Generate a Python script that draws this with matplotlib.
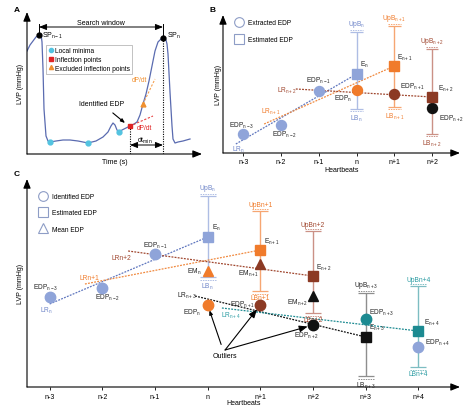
import matplotlib.pyplot as plt
from matplotlib.lines import Line2D

plt.rcParams['font.family'] = ['Liberation Sans', 'DejaVu Sans']
plt.rcParams['mathtext.fontset'] = 'custom'
plt.rcParams['mathtext.rm'] = 'Liberation Sans'
plt.rcParams['mathtext.it'] = 'Liberation Sans:italic'
plt.rcParams['mathtext.default'] = 'regular'

# Colours
BLUE = '#8FA4D9'
ORANGE = '#F07B2B'
BROWN = '#8C3A24'
BLACK = '#111111'
TEAL = '#1C8A91'
BLUE_L, ORANGE_L, BROWN_L, GREY_L, TEAL_L = '#AEBDE4', '#F6A672', '#CB9186', '#8E8E8E', '#7DBDC2'
BLUE_T, BROWN_T, TEAL_T, DARK = '#6E85C8', '#A0472F', '#2B9CA3', '#222222'

# ---- Panel A data: one LVP trace (time in s, pressure in mmHg)
t_curve = [0.00, 0.03, 0.06, 0.09, 0.12, 0.14, 0.15, 0.16, 0.17, 0.19, 0.21, 0.23, 0.29, 0.36,
           0.43, 0.51, 0.61, 0.69, 0.76, 0.81, 0.84, 0.86, 0.88, 0.90, 0.92, 0.95, 0.99, 1.03,
           1.07, 1.10, 1.13, 1.16, 1.19, 1.22, 1.25, 1.28, 1.31, 1.34, 1.36, 1.39, 1.40, 1.41,
           1.43, 1.45, 1.46, 1.48, 1.51, 1.56, 1.63]
p_curve = [103, 109, 113, 117, 119, 120, 112, 85, 45, 18, 13, 12, 13, 14,
           14, 13, 11, 13, 17, 22, 28, 31, 29, 24, 22, 24, 26, 28,
           30, 32, 39, 50, 60, 73, 88, 103, 112, 115, 116, 114, 110, 100,
           62, 28, 15, 11, 12, 13, 15]
t_minima = [0.23, 0.61, 0.92]
p_minima = [12, 11, 22]
t_infl, p_infl = [1.03], [28]
t_excl, p_excl = [1.16], [50]
t_sp = [0.12, 1.36]
p_sp = [119, 116]

# ---- Panel B data (heartbeat index relative to n)
b_beats = [-3, -2, -1, 0, 1, 2]
b_edp = [19, 28, 62, 63, 59, 45]
b_edp_colors = [BLUE, BLUE, BLUE, ORANGE, BROWN, BLACK]
b_est_beats = [0, 1, 2]
b_est = [79, 87, 56]
b_est_colors = [BLUE, ORANGE, BROWN]
b_upb = [121, 127, 104]
b_lb = [44, 46, 19]
b_bar_colors = [BLUE_L, ORANGE_L, BROWN_L]
b_lr_x0 = [-3.2, -2.45, -1.61]
b_lr_y0 = [9, 29, 64]
b_lr_colors = ['#5F76BE', '#F08A40', BROWN_T]

# ---- Panel C data
c_beats = [-3, -2, -1, 0, 1, 2, 3, 4]
c_edp = [90, 99, 133, 82, 82, 62, 68, 40]
c_edp_colors = [BLUE, BLUE, BLUE, ORANGE, BROWN, BLACK, TEAL, BLUE]
c_est_beats = [0, 1, 2, 3, 4]
c_est = [150, 137, 111, 50, 56]
c_est_colors = [BLUE, ORANGE, BROWN, BLACK, TEAL]
c_mean_beats = [0, 1, 2]
c_mean = [116, 123, 91]
c_mean_colors = [ORANGE, BROWN, BLACK]
c_upb = [191, 176, 156, 94, 101]
c_lb = [110, 96, 74, 11, 20]
c_bar_colors = [BLUE_L, ORANGE_L, BROWN_L, GREY_L, TEAL_L]
c_lr_x0 = [-3.0, -2.33, -1.51, -0.24, 0.27]
c_lr_y0 = [83, 103, 136, 91, 79]
c_lr_colors = ['#5F76BE', '#F08A40', BROWN_T, BLACK, TEAL]

W, H = 474, 414
fig = plt.figure(figsize=(W / 100, H / 100), dpi=100)


def px_axes(x0, y0, x1, y1):
    return fig.add_axes([x0 / W, 1 - y1 / H, (x1 - x0) / W, (y1 - y0) / H])


def arrow_axes(ax):
    for s in ax.spines.values():
        s.set_visible(False)
    kw = dict(arrowstyle='-|>,head_length=0.55,head_width=0.22', color='black', lw=0.8,
              shrinkA=0, shrinkB=0)
    ax.annotate('', xy=(1, 0), xytext=(0, 0), xycoords='axes fraction', arrowprops=kw)
    ax.annotate('', xy=(0, 1), xytext=(0, 0), xycoords='axes fraction', arrowprops=kw)


def error_bars(ax, xs, ups, lows, colors, hw, off):
    for x, u, l, c in zip(xs, ups, lows, colors):
        ax.vlines(x, l, u, color=c, lw=1.0, zorder=1)
        ax.hlines([u, l], x - hw, x + hw, color=c, lw=0.9, zorder=1)
        ax.hlines([u + off, l - off], x - hw, x + hw, color=c, lw=0.7, ls=(0, (1.5, 1)), zorder=1)


def legend_shapes(ax, labels, anchor, spacing):
    handles = [Line2D([], [], ls='', marker=m, ms=7, mfc='none', mec='#8E9DC6', mew=0.8)
               for m in ['o', 's', '^'][:len(labels)]]
    ax.legend(handles, labels, loc='upper left', bbox_to_anchor=anchor, frameon=False,
              fontsize=4.8, handlelength=1.5, handletextpad=0.6, labelspacing=spacing,
              borderpad=0, borderaxespad=0)


# ================= Panel A =================
axA = px_axes(27, 13, 202, 155)
arrow_axes(axA)
axA.set_xlim(0, 1.75)
axA.set_ylim(0, 142)
axA.set_xticks([])
axA.set_yticks([])
axA.plot(t_curve, p_curve, color='#5A6BB0', lw=0.9, zorder=2)
axA.plot(t_minima, p_minima, 'o', color='#53C3E0', ms=3.5, zorder=3)
axA.plot(t_infl, p_infl, 's', color='#E02424', ms=3.5, zorder=3)
axA.plot(t_excl, p_excl, '^', color='#F09030', ms=3.5, zorder=3)
axA.plot(t_sp, p_sp, 'o', color='black', ms=3.5, zorder=3)
axA.plot([t_infl[0], 1.26], [p_infl[0], 38], color='#E84040', lw=0.8, ls=(0, (2, 1.5)))
axA.plot([t_excl[0], 1.28], [p_excl[0], 75], color='#F5A050', lw=0.8, ls=(0, (2, 1.5)))
axA.text(1.12, 74, 'dP/dt', color='#F09030', fontsize=4.8, ha='center', va='center')
axA.text(1.17, 27, 'dP/dt', color='#E02424', fontsize=4.8, ha='center', va='center')
# search window
for t, p in zip(t_sp, p_sp):
    axA.plot([t, t], [p, 130], color='black', lw=0.7)
axA.annotate('', xy=(t_sp[0], 127), xytext=(t_sp[1], 127),
             arrowprops=dict(arrowstyle='<|-|>,head_length=0.45,head_width=0.18', color='black',
                             lw=0.7, shrinkA=0, shrinkB=0))
axA.text(sum(t_sp) / 2, 131, 'Search window', fontsize=5, ha='center', va='center')
axA.text(t_sp[0] + 0.03, p_sp[0], 'SP$_{n-1}$', fontsize=5, va='center')
axA.text(t_sp[1] + 0.04, p_sp[1] + 3, 'SP$_{n}$', fontsize=5, va='center')
axA.plot([t_infl[0]] * 2, [0, p_infl[0]], color='black', lw=0.8, ls=(0, (1, 1.2)))
axA.plot([t_sp[1]] * 2, [0, p_sp[1]], color='black', lw=0.8, ls=(0, (1, 1.2)))
axA.annotate('', xy=(t_infl[0], 9), xytext=(t_sp[1], 9),
             arrowprops=dict(arrowstyle='<|-|>,head_length=0.45,head_width=0.18', color='black',
                             lw=0.7, shrinkA=0, shrinkB=0))
axA.text(1.18, 14, 'dt$_{min}$', fontsize=5, ha='center', va='center')
axA.annotate('Identified EDP', xy=(0.98, 31), xytext=(0.75, 50), fontsize=5, ha='center',
             va='center', arrowprops=dict(arrowstyle='-|>,head_length=0.5,head_width=0.2',
                                          color='black', lw=0.8, shrinkA=3, shrinkB=0))
axA.legend([Line2D([], [], ls='', marker='o', color='#53C3E0', ms=3),
            Line2D([], [], ls='', marker='s', color='#E02424', ms=3),
            Line2D([], [], ls='', marker='^', color='#F09030', ms=3)],
           ['Local minima', 'Inflection points', 'Excluded inflection points'],
           loc='upper left', bbox_to_anchor=(0.109, 0.768), fontsize=4.8, handlelength=0.7,
           handletextpad=0.3, labelspacing=0.25, borderpad=0.35, borderaxespad=0,
           fancybox=False, edgecolor='#AAAAAA', framealpha=1).get_frame().set_linewidth(0.5)
axA.set_xlabel('Time (s)', fontsize=5, labelpad=3)
axA.set_ylabel('LVP (mmHg)', fontsize=5, labelpad=2)

# ================= Panel B =================
axB = px_axes(223, 16, 460, 154)
arrow_axes(axB)
axB.set_xlim(-3.54, 2.74)
axB.set_ylim(0, 138)
axB.set_yticks([])
axB.set_xticks(b_beats, ['n-3', 'n-2', 'n-1', 'n', 'n+1', 'n+2'])
axB.tick_params(axis='x', length=2, width=0.6, labelsize=5, pad=1.5)
error_bars(axB, b_est_beats, b_upb, b_lb, b_bar_colors, 0.17, 2.2)
for x0, y0, x1, y1, c in zip(b_lr_x0, b_lr_y0, b_est_beats, b_est, b_lr_colors):
    axB.plot([x0, x1], [y0, y1], color=c, lw=0.9, ls=(0, (1.5, 1)), zorder=2)
for x, y, c in zip(b_beats, b_edp, b_edp_colors):
    axB.plot(x, y, 'o', color=c, ms=7.2, zorder=4)
for x, y, c in zip(b_est_beats, b_est, b_est_colors):
    axB.plot(x, y, 's', color=c, ms=6.8, zorder=4)
b_texts = [
    ('EDP$_{n-3}$', -3.04, 28, 'center', DARK), ('EDP$_{n-2}$', -1.9, 19, 'center', DARK),
    ('EDP$_{n-1}$', -1.0, 73, 'center', DARK), ('EDP$_{n}$', -0.36, 55, 'center', DARK),
    ('E$_{n}$', 0.09, 89, 'left', DARK), ('EDP$_{n+1}$', 1.15, 67, 'left', DARK),
    ('E$_{n+1}$', 1.07, 96, 'left', DARK), ('E$_{n+2}$', 2.16, 65, 'left', DARK),
    ('EDP$_{n+2}$', 2.19, 35, 'left', DARK),
    ('LR$_{n}$', -3.12, 4, 'center', BLUE_T), ('LR$_{n+1}$', -2.27, 42, 'center', ORANGE),
    ('LR$_{n+2}$', -1.84, 63, 'center', BROWN_T),
]
for s, x, y, ha, c in b_texts:
    axB.text(x, y, s, fontsize=4.8, ha=ha, va='center', color=c)
for x, u, l, c, nm in zip(b_est_beats, b_upb, b_lb, [BLUE_T, ORANGE, BROWN_T],
                          ['n', 'n+1', 'n+2']):
    axB.text(x, u + 3, 'UpB$_{%s}$' % nm, fontsize=4.8, ha='center', va='bottom', color=c)
    axB.text(x, l - 3.5, 'LB$_{%s}$' % nm, fontsize=4.8, ha='center', va='top', color=c)
legend_shapes(axB, ['Extracted EDP', 'Estimated EDP'], (0.046, 0.971), 1.5)
axB.set_xlabel('Heartbeats', fontsize=5, labelpad=0.5)
axB.set_ylabel('LVP (mmHg)', fontsize=5, labelpad=1)

# ================= Panel C =================
axC = px_axes(27, 180, 460, 388)
arrow_axes(axC)
axC.set_xlim(-3.43, 4.79)
axC.set_ylim(0, 208)
axC.set_yticks([])
axC.set_xticks(c_beats, ['n-3', 'n-2', 'n-1', 'n', 'n+1', 'n+2', 'n+3', 'n+4'])
axC.tick_params(axis='x', length=2.5, width=0.6, labelsize=5, pad=2)
error_bars(axC, c_est_beats, c_upb, c_lb, c_bar_colors, 0.15, 2.5)
for x0, y0, x1, y1, c in zip(c_lr_x0, c_lr_y0, c_est_beats, c_est, c_lr_colors):
    axC.plot([x0, x1], [y0, y1], color=c, lw=0.9, ls=(0, (1.5, 1)), zorder=2)
for x, y, c in zip(c_beats, c_edp, c_edp_colors):
    axC.plot(x, y, 'o', color=c, ms=7.5, zorder=4)
for x, y, c in zip(c_est_beats, c_est, c_est_colors):
    axC.plot(x, y, 's', color=c, ms=7, zorder=4)
for x, y, c in zip(c_mean_beats, c_mean, c_mean_colors):
    axC.plot(x, y, '^', color=c, ms=6.5, zorder=4)
c_texts = [
    ('EDP$_{n-3}$', -3.07, 100, 'center', DARK), ('EDP$_{n-2}$', -1.91, 90, 'center', DARK),
    ('EDP$_{n-1}$', -1.0, 142, 'center', DARK), ('E$_{n}$', 0.08, 160, 'left', DARK),
    ('EM$_{n}$', -0.12, 116, 'right', DARK), ('EDP$_{n}$', -0.13, 75, 'right', DARK),
    ('E$_{n+1}$', 1.07, 146, 'left', DARK), ('EM$_{n+1}$', 0.97, 114, 'right', DARK),
    ('EDP$_{n+1}$', 0.9, 83, 'right', DARK), ('E$_{n+2}$', 2.06, 120, 'left', DARK),
    ('EM$_{n+2}$', 1.9, 85, 'right', DARK), ('EDP$_{n+2}$', 1.88, 52, 'center', DARK),
    ('EDP$_{n+3}$', 3.07, 75, 'left', DARK), ('E$_{n+3}$', 3.07, 60, 'left', DARK),
    ('E$_{n+4}$', 4.1, 65, 'left', DARK), ('EDP$_{n+4}$', 4.12, 45, 'left', DARK),
    ('LR$_{n}$', -3.07, 77, 'center', BLUE_T), ('LRn+1', -2.24, 110, 'center', ORANGE),
    ('LRn+2', -1.63, 129, 'center', BROWN_T), ('LR$_{n+3}$', -0.39, 92, 'center', DARK),
    ('LR$_{n+4}$', 0.45, 72, 'center', TEAL_T),
]
for s, x, y, ha, c in c_texts:
    axC.text(x, y, s, fontsize=4.8, ha=ha, va='center', color=c)
c_up_names = ['UpB$_{n}$', 'UpBn+1', 'UpBn+2', 'UpB$_{n+3}$', 'UpBn+4']
c_lb_names = ['LB$_{n}$', 'LBn+1', 'LBn+2', 'LB$_{n+3}$', 'LBn+4']
for x, u, l, c, un, ln in zip(c_est_beats, c_upb, c_lb, [BLUE_T, ORANGE, BROWN_T, DARK, TEAL_T],
                              c_up_names, c_lb_names):
    axC.text(x, u + 3, un, fontsize=4.8, ha='center', va='bottom', color=c)
    axC.text(x, l - 3.5, ln, fontsize=4.8, ha='center', va='top', color=c)
arr = dict(arrowstyle='-|>,head_length=0.5,head_width=0.2', color='black', lw=0.8,
           shrinkA=0, shrinkB=4)
axC.annotate('Outliers', xy=(c_beats[3], c_edp[3]), xytext=(0.33, 31), fontsize=5,
             ha='center', va='center', arrowprops=dict(arr, shrinkA=4))
for i in [4, 5]:
    axC.annotate('', xy=(c_beats[i], c_edp[i]), xytext=(0.33, 37), arrowprops=arr)
legend_shapes(axC, ['Identified EDP', 'Estimated EDP', 'Mean EDP'], (0.025, 0.933), 1.4)
axC.set_xlabel('Heartbeats', fontsize=5, labelpad=-1)
axC.set_ylabel('LVP (mmHg)', fontsize=5, labelpad=2)

# Panel letters
for s, x, y in [('A', 17, 10), ('B', 213, 10), ('C', 17, 175)]:
    fig.text(x / W, 1 - y / H, s, fontsize=6, fontweight='bold', ha='center', va='center')

fig.savefig('out.png', dpi=100)
